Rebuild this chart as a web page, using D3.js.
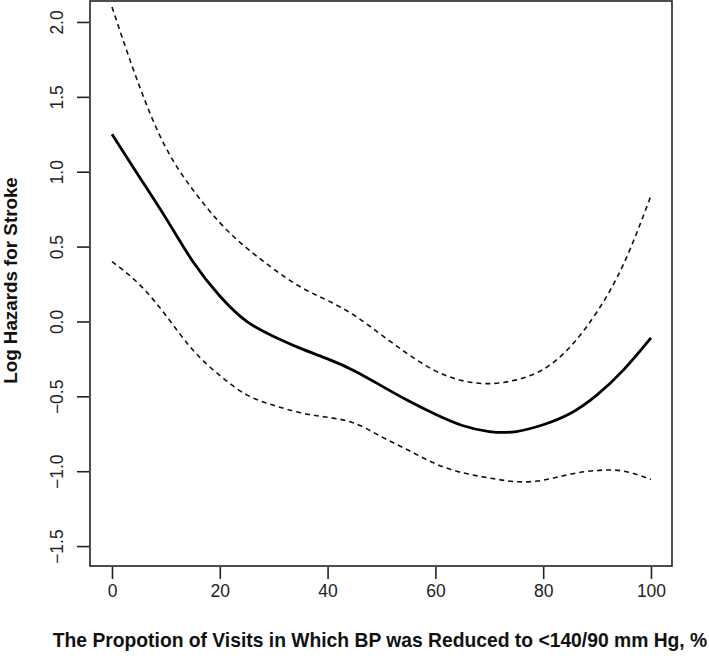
<!DOCTYPE html>
<html>
<head>
<meta charset="utf-8">
<script src="https://cdn.jsdelivr.net/npm/d3@7"></script>
<style>
  html, body { margin: 0; padding: 0; background: #fff; }
  svg { display: block; font-family: "Liberation Sans", Arial, sans-serif; }
</style>
</head>
<body>
<script>
// ---- Data ----
const estX     = [0, 5, 10, 15, 20, 25, 30, 35, 40, 45, 50, 55, 60, 65, 70, 75, 80, 85, 90, 95, 100];
const estimate = [1.25, 0.97, 0.69, 0.40, 0.17, 0.0, -0.10, -0.18, -0.25, -0.33, -0.43, -0.53, -0.62, -0.695, -0.735, -0.735, -0.69, -0.615, -0.49, -0.32, -0.11];

const upperX   = [0, 5, 10, 15, 20, 25, 30, 35, 40, 45, 50, 55, 60, 65, 70, 75, 80, 85, 90, 95, 100];
const upper    = [2.10, 1.58, 1.16, 0.88, 0.66, 0.49, 0.35, 0.23, 0.14, 0.04, -0.09, -0.22, -0.33, -0.395, -0.415, -0.39, -0.32, -0.17, 0.065, 0.39, 0.84];

const lowerX   = [0, 5, 10, 15, 20, 25, 30, 35, 40, 45, 50, 55, 60, 65, 70, 75, 80, 85, 90, 95, 100];
const lower    = [0.40, 0.25, 0.04, -0.19, -0.36, -0.49, -0.56, -0.61, -0.64, -0.68, -0.77, -0.86, -0.95, -1.01, -1.045, -1.07, -1.06, -1.02, -0.995, -1.0, -1.055];

const xTicks = [0, 20, 40, 60, 80, 100];
const yTicks = [-1.5, -1.0, -0.5, 0.0, 0.5, 1.0, 1.5, 2.0];

const xTitle = "The Propotion of Visits in Which BP was Reduced to <140/90 mm Hg, %";
const yTitle = "Log Hazards for Stroke";

// ---- Layout ----
const W = 709, H = 662;
const box = { left: 90, right: 672, top: 1, bottom: 566 };

const x = d3.scaleLinear().domain([-4.08, 103.9]).range([box.left, box.right]);
const y = d3.scaleLinear().domain([-1.633, 2.14]).range([box.bottom, box.top]);

const svg = d3.select("body").append("svg").attr("width", W).attr("height", H);

const line = d3.line().x(d => x(d[0])).y(d => y(d[1])).curve(d3.curveNatural);

svg.append("path")
  .datum(d3.zip(upperX, upper))
  .attr("d", line).attr("fill", "none").attr("stroke", "#111")
  .attr("stroke-width", 1.6).attr("stroke-dasharray", "5,4");

svg.append("path")
  .datum(d3.zip(lowerX, lower))
  .attr("d", line).attr("fill", "none").attr("stroke", "#111")
  .attr("stroke-width", 1.6).attr("stroke-dasharray", "5,4");

svg.append("path")
  .datum(d3.zip(estX, estimate))
  .attr("d", line).attr("fill", "none").attr("stroke", "#000")
  .attr("stroke-width", 2.8);

// Box
svg.append("rect")
  .attr("x", box.left).attr("y", box.top)
  .attr("width", box.right - box.left).attr("height", box.bottom - box.top)
  .attr("fill", "none").attr("stroke", "#222").attr("stroke-width", 1.6);

// X axis
const xAxis = d3.axisBottom(x).tickValues(xTicks).tickSize(12).tickPadding(6).tickFormat(d3.format("d"));
const gx = svg.append("g").attr("transform", `translate(0,${box.bottom + 1})`).call(xAxis);
gx.select(".domain").remove();
gx.selectAll(".tick line").attr("stroke", "#222").attr("stroke-width", 1.6);
gx.selectAll(".tick text").attr("font-size", 17.5).attr("fill", "#222")
  .attr("font-family", "'Liberation Sans', Arial, sans-serif");

// Y axis
const yAxis = d3.axisLeft(y).tickValues(yTicks).tickSize(12).tickFormat(d3.format(".1f"));
const gy = svg.append("g").attr("transform", `translate(${box.left - 1},0)`).call(yAxis);
gy.select(".domain").remove();
gy.selectAll(".tick line").attr("stroke", "#222").attr("stroke-width", 1.6);
gy.selectAll(".tick text")
  .attr("font-size", 17.5).attr("fill", "#222")
  .attr("font-family", "'Liberation Sans', Arial, sans-serif")
  .attr("text-anchor", "middle")
  .attr("x", null).attr("dy", null)
  .attr("transform", "translate(-26,0) rotate(-90)")
  .text(d => d3.format(".1f")(d).replace("-", "\u2212"));

// Titles
svg.append("text")
  .attr("x", (box.left + box.right) / 2 - 1).attr("y", 647)
  .attr("text-anchor", "middle").attr("font-weight", "bold").attr("font-size", 19.3)
  .attr("fill", "#111").text(xTitle);

svg.append("text")
  .attr("transform", `translate(17,${(box.top + box.bottom) / 2 - 3}) rotate(-90)`)
  .attr("text-anchor", "middle").attr("font-weight", "bold").attr("font-size", 18.8)
  .attr("fill", "#111").text(yTitle);
</script>
</body>
</html>
